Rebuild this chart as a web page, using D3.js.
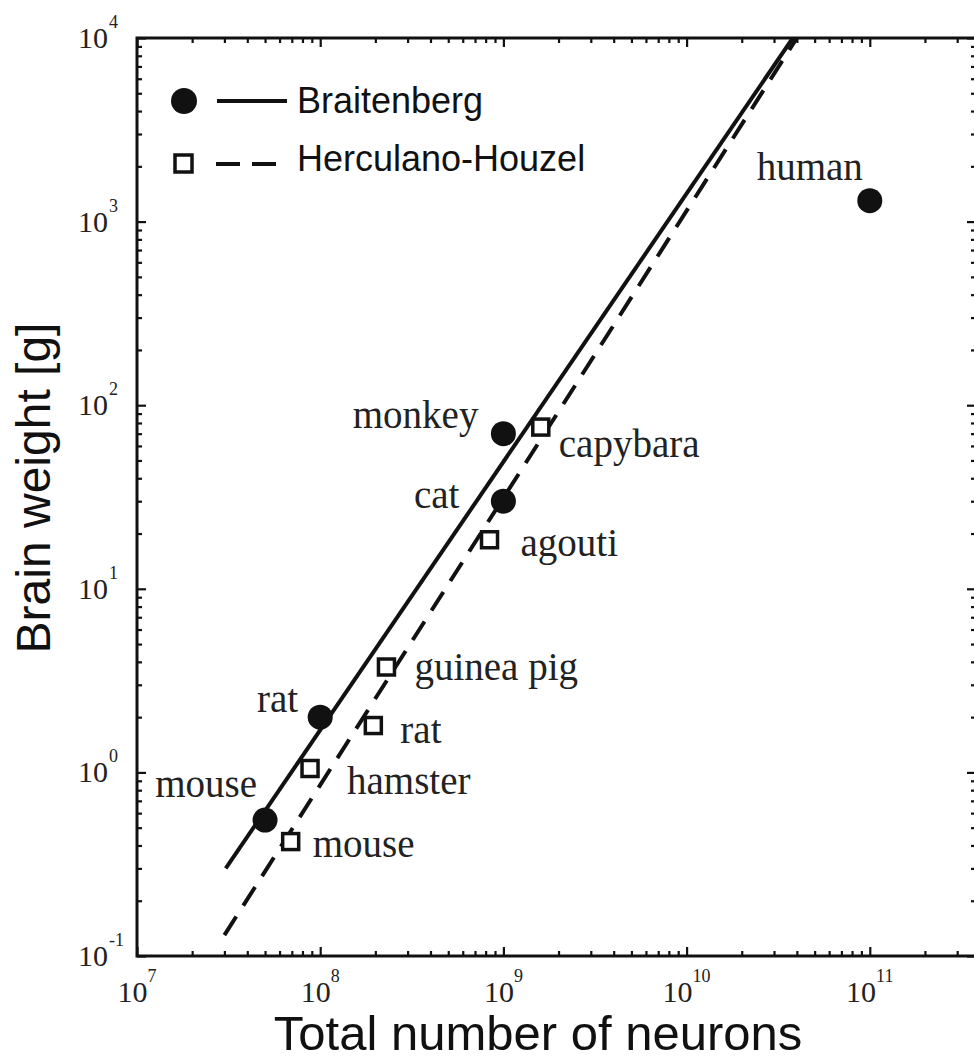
<!DOCTYPE html>
<html>
<head>
<meta charset="utf-8">
<script src="https://cdn.jsdelivr.net/npm/d3@7"></script>
<style>
  body { margin: 0; background: #fff; }
  svg { display: block; }
</style>
</head>
<body>
<svg id="chart" width="974" height="1061"></svg>
<script>
// Braitenberg data set (filled circles)
const braitenbergSpecies = ["mouse", "rat", "cat", "monkey", "human"];
const braitenbergNeurons = [5e7, 1e8, 1e9, 1e9, 1e11];
const braitenbergWeight  = [0.55, 2.0, 30, 70, 1300];

// Herculano-Houzel data set (open squares)
const herculanoSpecies = ["mouse", "hamster", "rat", "guinea pig", "agouti", "capybara"];
const herculanoNeurons = [6.9e7, 8.8e7, 1.95e8, 2.3e8, 8.4e8, 1.6e9];
const herculanoWeight  = [0.42, 1.05, 1.8, 3.75, 18.5, 76];

// Power-law fit lines (end points)
const braitenbergFitNeurons = [3.05e7, 3.8e10];
const braitenbergFitWeight  = [0.30, 1e4];
const herculanoFitNeurons   = [3.0e7, 4.0e10];
const herculanoFitWeight    = [0.13, 1e4];

// Axis decades
const xTickExponents = [7, 8, 9, 10, 11];
const yTickExponents = [-1, 0, 1, 2, 3, 4];

const legendLabels = ["Braitenberg", "Herculano-Houzel"];
const xTitle = "Total number of neurons";
const yTitle = "Brain weight [g]";

// Label placement relative to each marker: [dx, dy]
const braitenbergLabelOffset = {
  mouse: [-8, -23], rat: [-22, -5], cat: [-44, 7], monkey: [-25, -6], human: [-7, -21]
};
const herculanoLabelOffset = {
  mouse: [22, 15], hamster: [37, 25], rat: [27, 17], "guinea pig": [28, 13],
  agouti: [31, 16], capybara: [18, 30]
};

const svg = d3.select("#chart");
const ink = "#111";
const plotLeft = 137, plotRight = 976, plotTop = 38, plotBottom = 956;

const x = d3.scaleLog().domain([1e7, 3.8e11]).range([plotLeft, plotRight]);
const y = d3.scaleLog().domain([0.1, 1e4]).range([plotBottom, plotTop]);

// major and minor tick values
const xMajor = xTickExponents.map(e => Math.pow(10, e));
const yMajor = yTickExponents.map(e => Math.pow(10, e));
function minors(domain) {
  const out = [];
  for (let e = Math.floor(Math.log10(domain[0])); e <= Math.ceil(Math.log10(domain[1])); e++) {
    for (let m = 2; m <= 9; m++) {
      const v = m * Math.pow(10, e);
      if (v > domain[0] && v < domain[1]) out.push(v);
    }
  }
  return out;
}
const xMinor = minors(x.domain());
const yMinor = minors(y.domain());

// inward ticks on all four sides
function tickGroup(axis, transform) {
  const g = svg.append("g").attr("transform", transform).call(axis);
  g.select(".domain").remove();
  g.selectAll("line").attr("stroke", ink).attr("stroke-width", 2.2);
  g.selectAll("text").remove();
  return g;
}
[[xMajor, 9], [xMinor, 5]].forEach(([vals, len]) => {
  tickGroup(d3.axisBottom(x).tickValues(vals).tickSize(-len).tickFormat(""), `translate(0,${plotBottom})`);
  tickGroup(d3.axisTop(x).tickValues(vals).tickSize(-len).tickFormat(""), `translate(0,${plotTop})`);
});
[[yMajor, 9], [yMinor, 5]].forEach(([vals, len]) => {
  tickGroup(d3.axisLeft(y).tickValues(vals).tickSize(-len).tickFormat(""), `translate(${plotLeft},0)`);
  tickGroup(d3.axisRight(y).tickValues(vals).tickSize(-len).tickFormat(""), `translate(${plotRight},0)`);
});

// plot frame
svg.append("rect")
  .attr("x", plotLeft).attr("y", plotTop)
  .attr("width", plotRight - plotLeft).attr("height", plotBottom - plotTop)
  .attr("fill", "none").attr("stroke", ink).attr("stroke-width", 3);

// tick labels: 10 with superscript exponent
const serif = "'Liberation Serif', 'Times New Roman', serif";
xTickExponents.forEach(e => {
  const t = svg.append("text")
    .attr("x", x(Math.pow(10, e))).attr("y", 1002)
    .attr("text-anchor", "middle")
    .attr("font-family", serif).attr("fill", "#222");
  t.append("tspan").attr("font-size", 30).text("10");
  t.append("tspan").attr("font-size", 18).attr("dy", -20).text(String(e));
});
yTickExponents.forEach(e => {
  const ty = y(Math.pow(10, e));
  svg.append("text")
    .attr("x", 108).attr("y", ty + 10)
    .attr("text-anchor", "end")
    .attr("font-family", serif).attr("font-size", 30).attr("fill", "#222")
    .text("10");
  svg.append("text")
    .attr("x", 109).attr("y", ty - 10)
    .attr("font-family", serif).attr("font-size", 18).attr("fill", "#222")
    .text(String(e));
});

// axis titles
const sans = "'Liberation Sans', Arial, Helvetica, sans-serif";
svg.append("text")
  .attr("x", 538).attr("y", 1050)
  .attr("text-anchor", "middle")
  .attr("font-family", sans).attr("font-size", 49).attr("fill", ink)
  .text(xTitle);
svg.append("text")
  .attr("transform", "translate(50,488) rotate(-90)")
  .attr("text-anchor", "middle")
  .attr("font-family", sans).attr("font-size", 48).attr("fill", ink)
  .text(yTitle);

// clipped plotting area
svg.append("clipPath").attr("id", "plot-clip")
  .append("rect").attr("x", plotLeft).attr("y", plotTop)
  .attr("width", plotRight - plotLeft).attr("height", plotBottom - plotTop);
const plot = svg.append("g").attr("clip-path", "url(#plot-clip)");

const line = d3.line().x(d => x(d[0])).y(d => y(d[1]));
plot.append("path")
  .datum(d3.zip(braitenbergFitNeurons, braitenbergFitWeight))
  .attr("d", line).attr("fill", "none")
  .attr("stroke", ink).attr("stroke-width", 4);
plot.append("path")
  .datum(d3.zip(herculanoFitNeurons, herculanoFitWeight))
  .attr("d", line).attr("fill", "none")
  .attr("stroke", ink).attr("stroke-width", 4)
  .attr("stroke-dasharray", "22,13");

// markers
const bData = braitenbergSpecies.map((s, i) => ({ s, n: braitenbergNeurons[i], w: braitenbergWeight[i] }));
const hData = herculanoSpecies.map((s, i) => ({ s, n: herculanoNeurons[i], w: herculanoWeight[i] }));

plot.selectAll(".hc").data(hData).join("rect")
  .attr("x", d => x(d.n) - 8).attr("y", d => y(d.w) - 8)
  .attr("width", 16).attr("height", 16)
  .attr("fill", "#fff").attr("stroke", ink).attr("stroke-width", 3.5);
plot.selectAll(".bc").data(bData).join("circle")
  .attr("cx", d => x(d.n)).attr("cy", d => y(d.w)).attr("r", 12.5)
  .attr("fill", ink);

// species labels
svg.selectAll(".bl").data(bData).join("text")
  .attr("x", d => x(d.n) + braitenbergLabelOffset[d.s][0])
  .attr("y", d => y(d.w) + braitenbergLabelOffset[d.s][1])
  .attr("text-anchor", "end")
  .attr("font-family", serif).attr("font-size", 39).attr("fill", "#222")
  .text(d => d.s);
svg.selectAll(".hl").data(hData).join("text")
  .attr("x", d => x(d.n) + herculanoLabelOffset[d.s][0])
  .attr("y", d => y(d.w) + herculanoLabelOffset[d.s][1])
  .attr("font-family", serif).attr("font-size", 39).attr("fill", "#222")
  .text(d => d.s);

// legend
const legend = svg.append("g");
legend.append("circle").attr("cx", 184).attr("cy", 101).attr("r", 13).attr("fill", ink);
legend.append("line").attr("x1", 217).attr("x2", 287).attr("y1", 101).attr("y2", 101)
  .attr("stroke", ink).attr("stroke-width", 4);
legend.append("rect").attr("x", 175).attr("y", 155).attr("width", 17).attr("height", 17)
  .attr("fill", "#fff").attr("stroke", ink).attr("stroke-width", 3.5);
legend.append("line").attr("x1", 216).attr("x2", 276).attr("y1", 164).attr("y2", 164)
  .attr("stroke", ink).attr("stroke-width", 4).attr("stroke-dasharray", "24,12");
legendLabels.forEach((t, i) => {
  legend.append("text")
    .attr("x", 297).attr("y", 113 + i * 58)
    .attr("font-family", sans).attr("font-size", 36).attr("fill", ink)
    .text(t);
});
</script>
</body>
</html>
